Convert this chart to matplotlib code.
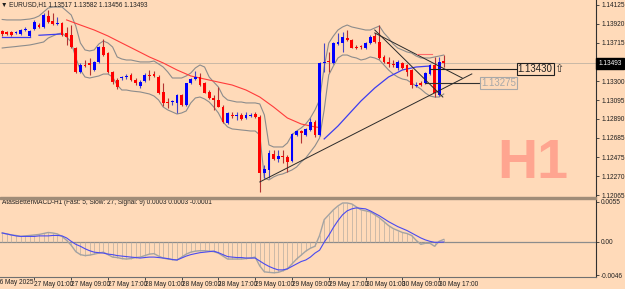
import matplotlib.pyplot as plt
from matplotlib.patches import Rectangle
import numpy as np
import pandas as pd

plt.rcParams['font.family'] = ['Liberation Sans', 'DejaVu Sans']
SMALL = dict(family=['Liberation Sans Narrow', 'Liberation Sans', 'DejaVu Sans'], fontsize=4.7)

# EURUSD H1 candles, first bar 26 May 2025 18:00
opens = [1.13843, 1.13832, 1.13832, 1.13821, 1.13811, 1.13854, 1.13789, 1.13865, 1.13911, 1.13890,
         1.14006, 1.13951, 1.13919, 1.13933, 1.13821, 1.13800, 1.13659, 1.13399, 1.13475, 1.13497,
         1.13421, 1.13507, 1.13670, 1.13605, 1.13399, 1.13312, 1.13334, 1.13345, 1.13366, 1.13312,
         1.13247, 1.13305, 1.13366, 1.13377, 1.13348, 1.13186, 1.13077, 1.13074, 1.13060, 1.13150,
         1.13041, 1.13277, 1.13320, 1.13348, 1.13277, 1.13186, 1.13114, 1.13096, 1.13023, 1.12850,
         1.12933, 1.12928, 1.12933, 1.12901, 1.12928, 1.12944, 1.12915, 1.12304, 1.12337, 1.12511,
         1.12456, 1.12484, 1.12475, 1.12435, 1.12716, 1.12760, 1.12716, 1.12771, 1.12861, 1.12716,
         1.13502, 1.13513, 1.13493, 1.13702, 1.13710, 1.13771, 1.13746, 1.13673, 1.13675, 1.13662,
         1.13710, 1.13792, 1.13721, 1.13565, 1.13511, 1.13486, 1.13446, 1.13493, 1.13475, 1.13421,
         1.13255, 1.13280, 1.13277, 1.13374, 1.13475, 1.13150, 1.13517]
highs = [1.13854, 1.13843, 1.13843, 1.13843, 1.13865, 1.13886, 1.13854, 1.13962, 1.13930, 1.14038,
         1.14071, 1.14038, 1.13995, 1.13941, 1.13886, 1.13908, 1.13670, 1.13497, 1.13529, 1.13551,
         1.13518, 1.13681, 1.13757, 1.13616, 1.13410, 1.13334, 1.13356, 1.13377, 1.13388, 1.13334,
         1.13312, 1.13388, 1.13421, 1.13410, 1.13366, 1.13280, 1.13117, 1.13096, 1.13161, 1.13161,
         1.13280, 1.13334, 1.13410, 1.13388, 1.13291, 1.13204, 1.13150, 1.13240, 1.13041, 1.12966,
         1.12966, 1.12966, 1.12955, 1.12966, 1.12955, 1.12966, 1.12933, 1.12391, 1.12554, 1.12554,
         1.12554, 1.12554, 1.12500, 1.12738, 1.12771, 1.12771, 1.12792, 1.12901, 1.12879, 1.13507,
         1.13713, 1.13616, 1.13724, 1.13821, 1.13832, 1.13854, 1.13757, 1.13691, 1.13691, 1.13724,
         1.13800, 1.13821, 1.13908, 1.13583, 1.13562, 1.13529, 1.13529, 1.13507, 1.13486, 1.13432,
         1.13291, 1.13302, 1.13399, 1.13486, 1.13565, 1.13562, 1.13582]
lows = [1.13789, 1.13800, 1.13789, 1.13811, 1.13800, 1.13843, 1.13778, 1.13854, 1.13876, 1.13876,
        1.13930, 1.13908, 1.13908, 1.13789, 1.13691, 1.13659, 1.13388, 1.13388, 1.13453, 1.13366,
        1.13410, 1.13497, 1.13572, 1.13388, 1.13269, 1.13215, 1.13312, 1.13323, 1.13302, 1.13258,
        1.13226, 1.13291, 1.13312, 1.13345, 1.13161, 1.13031, 1.13009, 1.13041, 1.12955, 1.13031,
        1.13031, 1.13269, 1.13312, 1.13247, 1.13171, 1.13106, 1.12987, 1.13015, 1.12850, 1.12836,
        1.12901, 1.12879, 1.12879, 1.12890, 1.12911, 1.12901, 1.12102, 1.12251, 1.12251, 1.12445,
        1.12424, 1.12413, 1.12316, 1.12424, 1.12706, 1.12630, 1.12706, 1.12760, 1.12695, 1.12706,
        1.13399, 1.13399, 1.13486, 1.13691, 1.13616, 1.13735, 1.13659, 1.13648, 1.13648, 1.13648,
        1.13702, 1.13713, 1.13540, 1.13497, 1.13453, 1.13453, 1.13421, 1.13432, 1.13356, 1.13226,
        1.13236, 1.13247, 1.13269, 1.13366, 1.13131, 1.13139, 1.13456]
closes = [1.13811, 1.13811, 1.13800, 1.13827, 1.13854, 1.13868, 1.13843, 1.13941, 1.13890, 1.14016,
          1.13944, 1.13919, 1.13933, 1.13800, 1.13781, 1.13670, 1.13399, 1.13475, 1.13470, 1.13475,
          1.13507, 1.13670, 1.13583, 1.13399, 1.13291, 1.13236, 1.13345, 1.13361, 1.13312, 1.13277,
          1.13294, 1.13366, 1.13361, 1.13356, 1.13171, 1.13060, 1.13060, 1.13079, 1.13150, 1.13041,
          1.13277, 1.13323, 1.13348, 1.13258, 1.13175, 1.13114, 1.13096, 1.13023, 1.12861, 1.12955,
          1.12928, 1.12933, 1.12890, 1.12933, 1.12933, 1.12911, 1.12304, 1.12348, 1.12525, 1.12456,
          1.12489, 1.12478, 1.12427, 1.12724, 1.12760, 1.12735, 1.12778, 1.12861, 1.12716, 1.13497,
          1.13511, 1.13507, 1.13710, 1.13724, 1.13781, 1.13746, 1.13662, 1.13656, 1.13670, 1.13710,
          1.13781, 1.13721, 1.13547, 1.13511, 1.13483, 1.13481, 1.13511, 1.13439, 1.13402, 1.13258,
          1.13260, 1.13258, 1.13385, 1.13475, 1.13171, 1.13511, 1.13493]

# envelope bands (gray)
band_upper = [1.13968, 1.13963, 1.13963, 1.13963, 1.13963, 1.13968, 1.13973, 1.13984, 1.14006, 1.14049,
              1.14092, 1.14103, 1.14103, 1.14103, 1.14060, 1.14017, 1.13897, 1.13713, 1.13638, 1.13627,
              1.13638, 1.13702, 1.13735, 1.13713, 1.13670, 1.13562, 1.13540, 1.13529, 1.13529, 1.13518,
              1.13508, 1.13508, 1.13508, 1.13518, 1.13486, 1.13453, 1.13399, 1.13334, 1.13334, 1.13334,
              1.13356, 1.13388, 1.13443, 1.13475, 1.13453, 1.13345, 1.13290, 1.13237, 1.13139, 1.13096,
              1.13085, 1.13074, 1.13074, 1.13064, 1.13064, 1.13064, 1.13053, 1.12934, 1.12609, 1.12587,
              1.12587, 1.12587, 1.12630, 1.12717, 1.12760, 1.12793, 1.12836, 1.12901, 1.12988, 1.13096,
              1.13453, 1.13713, 1.13789, 1.13854, 1.13887, 1.13908, 1.13887, 1.13876, 1.13865, 1.13854,
              1.13854, 1.13876, 1.13897, 1.13822, 1.13767, 1.13702, 1.13659, 1.13638, 1.13616, 1.13605,
              1.13572, 1.13551, 1.13551, 1.13551, 1.13562, 1.13572, 1.13583]
band_lower = [1.13659, 1.13665, 1.13670, 1.13675, 1.13681, 1.13686, 1.13692, 1.13702, 1.13713, 1.13724,
              1.13767, 1.13789, 1.13811, 1.13822, 1.13778, 1.13724, 1.13551, 1.13421, 1.13345, 1.13334,
              1.13345, 1.13356, 1.13377, 1.13377, 1.13345, 1.13258, 1.13204, 1.13204, 1.13194, 1.13188,
              1.13183, 1.13172, 1.13161, 1.13139, 1.13096, 1.13020, 1.12988, 1.12966, 1.12944, 1.12955,
              1.12977, 1.13064, 1.13118, 1.13128, 1.13107, 1.13074, 1.13020, 1.12955, 1.12858, 1.12804,
              1.12782, 1.12777, 1.12771, 1.12766, 1.12760, 1.12760, 1.12717, 1.12252, 1.12230, 1.12262,
              1.12284, 1.12295, 1.12316, 1.12338, 1.12370, 1.12424, 1.12468, 1.12533, 1.12598, 1.12684,
              1.12988, 1.13367, 1.13464, 1.13551, 1.13583, 1.13583, 1.13562, 1.13551, 1.13529, 1.13540,
              1.13562, 1.13551, 1.13529, 1.13475, 1.13421, 1.13377, 1.13345, 1.13323, 1.13313, 1.13280,
              1.13248, 1.13215, 1.13172, 1.13139, 1.13128, 1.13128, 1.13161]

# moving average pieces
red_ma_idx = [14, 17, 20, 23, 26, 29, 32, 35, 38, 41, 44, 47, 50, 53, 56, 59, 62, 65, 68, 69]
red_ma = [1.13963, 1.13908, 1.13854, 1.13789, 1.13713, 1.13638, 1.13562, 1.13497, 1.13421, 1.13356,
          1.13323, 1.13290, 1.13258, 1.13204, 1.13128, 1.13020, 1.12901, 1.12836, 1.12804, 1.12798]
blue_ma_pieces = [
    ([0, 6], [1.13782, 1.13782]),
    ([8, 13], [1.13797, 1.13811]),
    ([70, 73, 76, 78, 81, 84, 87, 90, 93],
     [1.12674, 1.12814, 1.12977, 1.13085, 1.13226, 1.13345, 1.13421, 1.13453, 1.13464]),
]

# drawn objects: (bar0, price0, bar1, price1)
trend_lines = [(56.0, 1.12208, 102.1, 1.13378),
               (81.0, 1.13822, 100.0, 1.13334),
               (81.0, 1.13854, 95.8, 1.13128)]
level_hi, level_lo = 1.13430, 1.13275

# AtasBetterMACD(5, 27, 9)
macd = [0.00119, 0.00106, 0.00092, 0.00085, 0.00072, 0.00079, 0.00085, 0.00092, 0.00099, 0.00112,
        0.00126, 0.00119, 0.00106, 0.00072, 0.00018, -0.00050, -0.00138, -0.00179, -0.00192, -0.00186,
        -0.00172, -0.00158, -0.00145, -0.00179, -0.00213, -0.00219, -0.00233, -0.00240, -0.00233, -0.00219,
        -0.00213, -0.00192, -0.00172, -0.00165, -0.00199, -0.00226, -0.00240, -0.00247, -0.00253, -0.00213,
        -0.00172, -0.00145, -0.00131, -0.00125, -0.00125, -0.00131, -0.00138, -0.00158, -0.00199, -0.00240,
        -0.00240, -0.00240, -0.00240, -0.00233, -0.00226, -0.00213, -0.00335, -0.00416, -0.00423, -0.00429,
        -0.00423, -0.00402, -0.00375, -0.00307, -0.00240, -0.00186, -0.00131, -0.00091, -0.00064, 0.00085,
        0.00302, 0.00370, 0.00438, 0.00492, 0.00532, 0.00532, 0.00519, 0.00478, 0.00438, 0.00424,
        0.00410, 0.00370, 0.00329, 0.00275, 0.00221, 0.00180, 0.00153, 0.00126, 0.00112, 0.00085,
        0.00018, -0.00037, -0.00023, -0.00023, -0.00064, 0.00005, 0.00030]
signal = [0.00119, 0.00106, 0.00092, 0.00079, 0.00072, 0.00072, 0.00072, 0.00072, 0.00079, 0.00079,
          0.00079, 0.00085, 0.00085, 0.00079, 0.00051, 0.00004, -0.00037, -0.00064, -0.00098, -0.00125,
          -0.00145, -0.00152, -0.00158, -0.00172, -0.00179, -0.00192, -0.00199, -0.00206, -0.00213, -0.00219,
          -0.00226, -0.00219, -0.00213, -0.00213, -0.00219, -0.00226, -0.00233, -0.00247, -0.00253, -0.00226,
          -0.00199, -0.00179, -0.00165, -0.00152, -0.00145, -0.00138, -0.00131, -0.00152, -0.00179, -0.00206,
          -0.00213, -0.00219, -0.00219, -0.00226, -0.00226, -0.00226, -0.00267, -0.00307, -0.00341, -0.00368,
          -0.00389, -0.00389, -0.00375, -0.00341, -0.00307, -0.00274, -0.00253, -0.00213, -0.00158, -0.00118,
          -0.00009, 0.00085, 0.00194, 0.00289, 0.00370, 0.00424, 0.00451, 0.00465, 0.00458, 0.00451,
          0.00424, 0.00390, 0.00356, 0.00316, 0.00275, 0.00241, 0.00207, 0.00180, 0.00153, 0.00119,
          0.00085, 0.00051, 0.00024, 0.00004, -0.00009, -0.00009, -0.00005]

price_ticks = [1.14125, 1.13920, 1.13715, 1.13300, 1.13095, 1.12890, 1.12685, 1.12475, 1.12270, 1.12065]
macd_ticks = [0.0055, 0.0, -0.0046]
macd_tick_labels = ['0.0055', '0.00', '-0.0046']

times = pd.date_range('2025-05-26 18:00', periods=len(opens), freq='h')
idx = np.arange(len(opens))
o, h, l, c = (np.array(a) for a in (opens, highs, lows, closes))

BG = '#FFDAB9'
W, H = 625.0, 289.0
fig = plt.figure(figsize=(6.25, 2.89), dpi=100, facecolor=BG)
ax = fig.add_axes([0, 1 - 197 / H, 596 / W, 197 / H], facecolor=BG)
ax2 = fig.add_axes([0, 1 - 277 / H, 596 / W, 78 / H], facecolor=BG)
for a in (ax, ax2):
    a.set_xlim(-0.48, 129.1)
    for s in ('top', 'left'):
        a.spines[s].set_visible(False)
    a.spines['right'].set_color('#303030')
    a.spines['right'].set_linewidth(0.8)
ax.spines['bottom'].set_visible(False)
ax2.spines['bottom'].set_color('#707070')
ax.set_ylim(1.12045, 1.14179)
ax2.set_ylim(-0.00487, 0.00587)

# bid line
ax.axhline(c[-1], color='#C9B8A6', lw=0.7, zorder=1)

# bands and averages
ax.plot(idx, band_upper, color='#8C8C8C', lw=0.8, zorder=2)
ax.plot(idx, band_lower, color='#8C8C8C', lw=0.8, zorder=2)
ax.plot(red_ma_idx, red_ma, color='#FF3B3B', lw=0.8, zorder=2)
for xs, ys in blue_ma_pieces:
    ax.plot(xs, ys, color='#3C3CF0', lw=0.9, zorder=2)

# candles
up = c >= o
body_col = np.where(up, '#0000FF', '#FF0000')
wick_col = np.where(up, '#4646C8', '#B43232')
ax.vlines(idx, l, h, colors=wick_col, lw=0.8, zorder=3)
height = c - o
bottom = o.copy()
small = np.abs(height) < 0.0001
bottom[small] = (o[small] + c[small]) / 2 - 0.00005
height[small] = 0.0001
ax.bar(idx, height, bottom=bottom, width=0.62, color=body_col, linewidth=0, zorder=4)

# trend lines and levels
for x0, y0, x1, y1 in trend_lines:
    ax.plot([x0, x1], [y0, y1], color='#2A2A2A', lw=0.7, zorder=5)
ax.plot([93, 111.8], [level_hi, level_hi], color='#202020', lw=0.8, zorder=5)
ax.plot([92, 103.8], [level_lo, level_lo], color='#303030', lw=0.8, zorder=5)
ax.plot([90.2, 93.4], [1.13594, 1.13594], color='#FF6A6A', lw=0.8, zorder=5)
ax.text(112.1, level_hi, '%.5f' % level_hi, fontsize=7, color='#202020', va='center', ha='left',
        bbox=dict(boxstyle='square,pad=0.1', fc='none', ec='#202020', lw=0.8), zorder=6)
ax.text(119.9, level_hi + 0.00004, '\u21e7', fontsize=8, color='#303030', va='center', ha='left',
        family=['DejaVu Sans'])
ax.text(104.1, level_lo, '%.5f' % level_lo, fontsize=7, color='#A8A8A8', va='center', ha='left',
        bbox=dict(boxstyle='square,pad=0.1', fc='none', ec='#A8A8A8', lw=0.8), zorder=6)

# watermark
fig.text(533 / W, 1 - 178 / H, 'H1', fontsize=40, fontweight='bold', color='#FFA590',
         ha='center', va='baseline', zorder=0)

# price axis
ax.yaxis.tick_right()
ax.set_yticks(price_ticks)
ax.set_yticklabels(['%.5f' % v for v in price_ticks], **SMALL)
ax.tick_params(axis='y', length=2.5, width=0.6, color='#303030', pad=1.2, labelcolor='#202020')
ax.set_xticks([])
ax.text(1.004, c[-1], '%.5f' % c[-1], transform=ax.get_yaxis_transform(), color='white',
        va='center', ha='left', bbox=dict(boxstyle='square,pad=0.3', fc='black', ec='black'), **SMALL)

# MACD window
ax2.axhline(0, color='#8C8C8C', lw=0.9, zorder=1)
ax2.vlines(idx, 0, macd, colors='#B8ADA2', lw=0.5, zorder=2)
ax2.plot(idx, macd, color='#A3A3A3', lw=1.0, zorder=3)
ax2.plot(idx, signal, color='#4A4AF0', lw=0.8, zorder=4)
ax2.yaxis.tick_right()
ax2.set_yticks(macd_ticks)
ax2.set_yticklabels(macd_tick_labels, **SMALL)
ax2.tick_params(axis='y', length=2.5, width=0.6, color='#303030', pad=1.2, labelcolor='#202020')

label_idx = list(range(7, len(opens), 8))
ax2.set_xticks(label_idx)
ax2.set_xticklabels([times[i].strftime('%d %b %H:%M') for i in label_idx], **SMALL)
ax2.tick_params(axis='x', length=2, width=0.6, color='#303030', pad=1, labelcolor='#202020')
for lab in ax2.get_xticklabels():
    lab.set_ha('left')
fig.text(-4 / W, 1 - 283 / H, '26 May 2025', color='#202020', va='center', ha='left', **SMALL)

# panel separator
fig.add_artist(Rectangle((0, 1 - 199.3 / H), 596 / W, 2.6 / H, transform=fig.transFigure,
                         color='#A08C78', zorder=10))

# headers
fig.text(1 / W, 1 - 5 / H, '\u25bc EURUSD,H1 1.13517 1.13582 1.13456 1.13493',
         color='#202020', va='center', ha='left', **SMALL)
fig.text(2 / W, 1 - 203 / H, 'AtasBetterMACD-H1 (Fast: 5, Slow: 27, Signal: 9) 0.0003 0.0003 -0.0001',
         color='#202020', va='center', ha='left', **SMALL)

fig.savefig('out.png', dpi=100, facecolor=BG)
